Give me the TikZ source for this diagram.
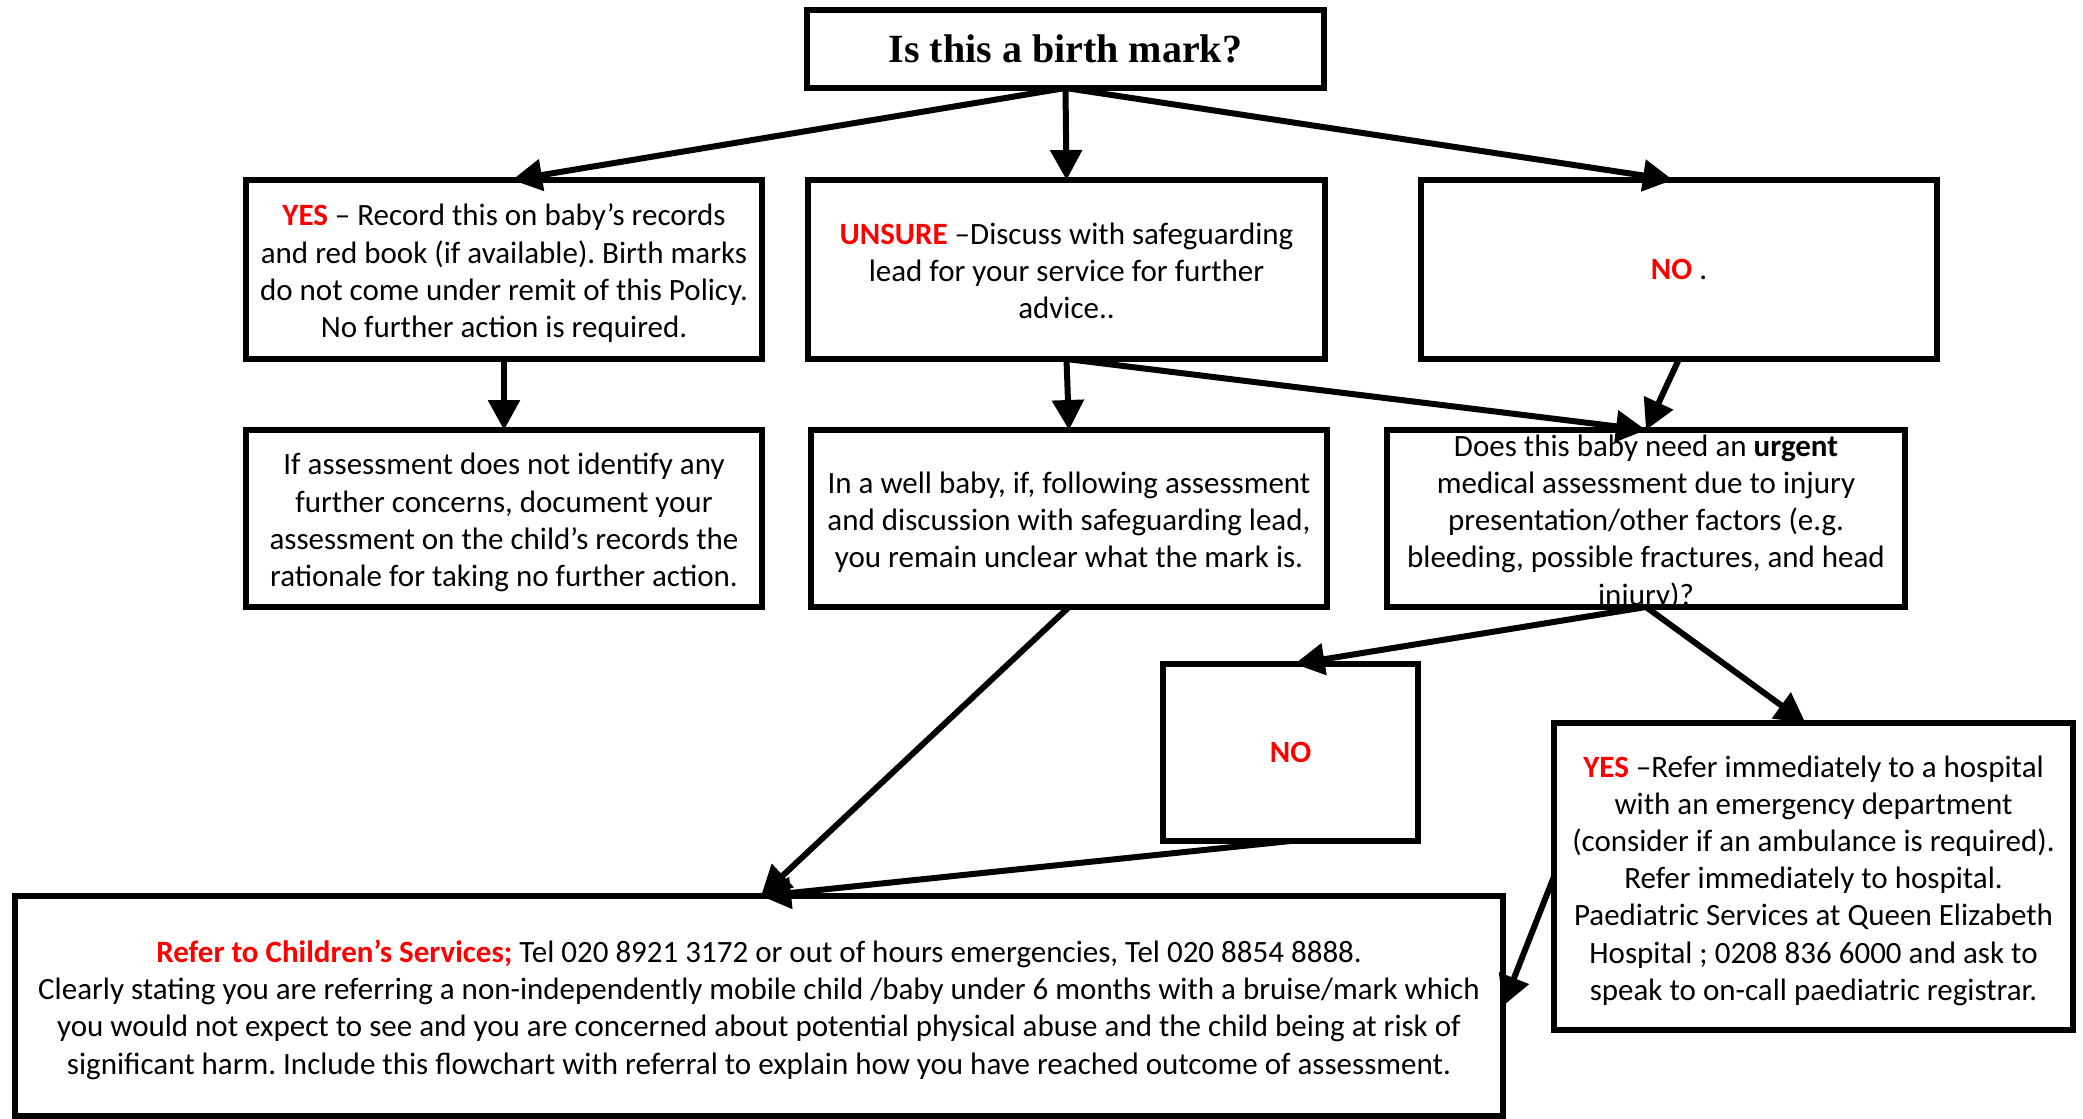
\documentclass[tikz,border=0pt]{standalone}
\usepackage{fontspec}
\setmainfont{Carlito}
\newfontfamily\titlefont{Liberation Serif}
\usetikzlibrary{arrows.meta,calc}

\newcommand\bodyfont{\fontsize{31}{37.2}\selectfont\frenchspacing}
\newcommand\redb[1]{\textcolor{red}{\textbf{#1}}}
% fixed first-line height and last-line depth so every text block sits alike
\newcommand\topfix{\rule{0pt}{31pt}}
\newcommand\botfix{\rule[-6.5pt]{0pt}{6.5pt}}

\tikzset{
  framed/.style={draw, line width=6pt, fill=white, inner sep=0pt, outer sep=0pt, align=center},
  box/.style={framed, font=\bodyfont},
  arr/.style={line width=6pt, -{Triangle[length=30pt,width=31pt]}},
}

\begin{document}
\begin{tikzpicture}[x=1pt,y=-1pt]
\useasboundingbox (0,0) rectangle (2083,1119);
\fill[white] (0,0) rectangle (2083,1119);

% question at the top
\node[framed, minimum width=517pt, minimum height=78pt,
      font=\titlefont\bfseries\fontsize{40}{48}\selectfont] (top) at (1065.5,49) {Is this a birth mark?};

% first row of answers
\node[box, minimum width=516pt, minimum height=179pt] (yes) at (504,269.5)
  {\topfix\redb{YES} – Record this on baby’s records\\
   and red book (if available). Birth marks\\
   do not come under remit of this Policy.\\
   No further action is required.\botfix};
\node[box, minimum width=517pt, minimum height=179pt] (unsure) at (1066.5,269.5)
  {\topfix\redb{UNSURE} –Discuss with safeguarding\\
   lead for your service for further\\
   advice..\botfix};
\node[box, minimum width=516pt, minimum height=179pt] (notop) at (1679,269.5)
  {\redb{NO} .};

% second row
\node[box, minimum width=516pt, minimum height=177pt] (assess) at (504,518.5)
  {\topfix If assessment does not identify any\\
   further concerns, document your\\
   assessment on the child’s records the\\
   rationale for taking no further action.\botfix};
\node[box, minimum width=516pt, minimum height=177pt] (well) at (1069,518.5)
  {\topfix In a well baby, if, following assessment\\
   and discussion with safeguarding lead,\\
   you remain unclear what the mark is.\botfix};
% five lines overflow the frame slightly, so the frame keeps its own height
\node[box, inner ysep=-8pt, minimum width=518pt, minimum height=177pt] (urgent) at (1646,518.5)
  {\topfix Does this baby need an \textbf{urgent}\\
   medical assessment due to injury\\
   presentation/other factors (e.g.\\
   bleeding, possible fractures, and head\\
   injury)?\botfix};

% urgent question outcomes
\node[box, minimum width=255pt, minimum height=177pt] (nomid) at (1290.5,752.5)
  {\redb{NO}};
\node[box, minimum width=519pt, minimum height=307pt] (hosp) at (1813.5,876.5)
  {\topfix\redb{YES} –Refer immediately to a hospital\\
   with an emergency department\\
   (consider if an ambulance is required).\\
   Refer immediately to hospital.\\
   Paediatric Services at Queen Elizabeth\\
   Hospital ; 0208 836 6000 and ask to\\
   speak to on-call paediatric registrar.\botfix};

% referral
\node[box, minimum width=1488pt, minimum height=220pt] (refer) at (759,1006)
  {\topfix\redb{Refer to Children’s Services;} Tel 020 8921 3172 or out of hours emergencies, Tel 020 8854 8888.\\
   Clearly stating you are referring a non-independently mobile child /baby under 6 months with a bruise/mark which\\
   you would not expect to see and you are concerned about potential physical abuse and the child being at risk of\\
   significant harm. Include this flowchart with referral to explain how you have reached outcome of assessment.\botfix};

\coordinate (referin) at ($(refer.north)+(2,0)$);

% connectors
\draw[arr] (top.south) -- ($(yes.north)+(8,0)$);
\draw[arr] (top.south) -- (unsure.north);
\draw[arr] (top.south) -- ($(notop.north)+(-6,0)$);
\draw[arr] (yes.south) -- (assess.north);
\draw[arr] (unsure.south) -- (well.north);
\draw[arr] (unsure.south) -- (urgent.north);
\draw[arr] (notop.south) -- (urgent.north);
\draw[arr] (well.south) -- (referin);
\draw[arr] (urgent.south) -- ($(nomid.north)+(4,0)$);
\draw[arr] (urgent.south) -- ($(hosp.north)+(-8,0)$);
\draw[arr] (nomid.south) -- (referin);
\draw[arr] (hosp.west) -- (refer.east);
\end{tikzpicture}
\end{document}
